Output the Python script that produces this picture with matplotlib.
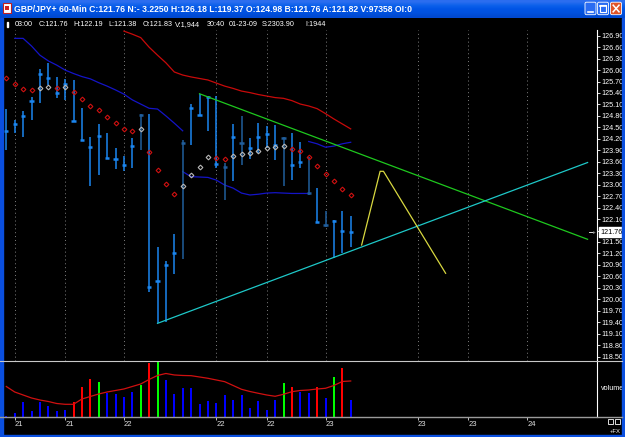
# GBP/JPY 60-min chart screenshot recreation
import numpy as np
import matplotlib
matplotlib.use("Agg")
import matplotlib.pyplot as plt
import matplotlib.patches as mpatches
import matplotlib.transforms as mtrans

plt.rcParams["font.family"] = ["Liberation Sans Narrow", "Liberation Sans", "DejaVu Sans"]

# ── price bars (oldest -> newest) ────────────────────────────────────────────
highs = [124.98, 124.69, 124.93, 125.30, 126.03, 126.18, 125.82, 125.77, 125.74, 125.02,
         124.25, 124.58, 124.35, 123.97, 123.75, 124.21, 124.84, 124.85, 121.37, 121.00,
         121.70, 124.18, 125.12, 125.38, 125.31, 125.32, 123.56, 124.58, 124.80, 124.21,
         124.61, 124.54, 124.56, 124.24, 124.35, 124.12, 123.73, 122.92, 122.31, 122.07,
         122.31, 122.19]
lows = [123.91, 124.35, 124.24, 124.69, 125.14, 125.61, 125.28, 125.22, 124.67, 124.18,
        122.97, 123.26, 123.68, 123.40, 123.36, 123.44, 123.91, 120.20, 119.37, 119.41,
        120.67, 121.06, 124.05, 124.82, 124.41, 123.44, 122.60, 123.10, 123.52, 123.67,
        123.82, 123.95, 123.65, 122.97, 123.13, 123.44, 122.73, 122.00, 121.90, 121.08,
        121.22, 121.38]
closes = [124.41, 124.60, 124.80, 125.20, 125.91, 125.79, 125.41, 125.64, 124.67, 124.18,
          123.99, 124.27, 123.69, 123.66, 123.52, 124.02, 124.82, 120.32, 120.49, 120.90,
          121.22, 124.09, 125.00, 124.82, 125.30, 123.55, 123.46, 124.26, 124.10, 123.96,
          124.26, 124.33, 124.04, 124.23, 123.52, 123.59, 122.79, 122.01, 121.95, 122.05,
          121.80, 121.76]
dark_bars = [16, 21, 26, 28, 33, 36, 38]

# parabolic SAR dots
sar = [125.80, 125.63, 125.51, 125.47, 125.52, 125.56, 125.54, 125.56, 125.43, 125.24,
       125.07, 124.95, 124.78, 124.61, 124.46, 124.40, 124.45, 123.86, 123.38, 123.03,
       122.76, 122.96, 123.25, 123.47, 123.73, 123.71, 123.68, 123.75, 123.81, 123.83,
       123.88, 123.95, 123.98, 124.00, 123.93, 123.88, 123.72, 123.49, 123.27, 123.09,
       122.89, 122.74]
sar_red = [1, 1, 1, 1, 0, 0, 1, 0, 1, 1,
           1, 1, 1, 1, 1, 1, 0, 1, 1, 1,
           1, 0, 0, 0, 0, 1, 1, 0, 0, 0,
           0, 0, 0, 0, 1, 1, 1, 1, 1, 1,
           1, 1]

# indicator lines (start bar, values)
blue_a_start = 1
blue_a = [126.83, 126.83, 126.63, 126.39, 126.24, 126.13, 126.00, 125.91, 125.83, 125.77,
          125.67, 125.58, 125.48, 125.37, 125.22, 125.11, 125.00, 124.98, 124.80, 124.61,
          124.41]
blue_b_start = 21
blue_b = [123.34, 123.21, 123.20, 123.19, 123.12, 122.99, 122.91, 122.78, 122.73, 122.75,
          122.78, 122.79, 122.78, 122.77, 122.77, 122.77]
blue_c_start = 36
blue_c = [124.13, 124.07, 123.98, 124.01, 124.07, 124.11]
red_start = 14
red_ma = [127.02, 126.94, 126.85, 126.60, 126.39, 126.19, 125.95, 125.87, 125.82, 125.78,
          125.74, 125.66, 125.58, 125.52, 125.45, 125.41, 125.36, 125.32, 125.28, 125.26,
          125.20, 125.11, 125.06, 124.99, 124.86, 124.72, 124.59, 124.46]

# drawn trendlines
green_x = [23, 69.2]
green_y = [125.38, 121.57]
cyan_x = [18, 69.2]
cyan_y = [119.37, 123.58]
yellow_x = [42.3, 44.5, 44.9, 52.3]
yellow_y = [121.42, 123.35, 123.35, 120.68]

# volume
volume = [80, 430, 1670, 660, 1670, 1280, 660, 740, 1710, 3450,
          4420, 4000, 2790, 2600, 2290, 2910, 3690, 6210, 6480, 4270,
          2600, 3340, 3340, 1440, 1860, 1590, 2480, 1940, 2480, 1010,
          1860, 780, 1940, 3920, 3410, 2910, 2790, 3410, 2170, 4580,
          5630, 1944]
vol_red = [8, 9, 10, 17, 34, 37, 40]
vol_green = [11, 16, 18, 33, 39]
vol_ma = [3515, 2875, 2526, 2177, 1944, 1769, 1536, 1443, 1443, 2060,
          2351, 2642, 2875, 3050, 3224, 3515, 3806, 4330, 4796, 5028,
          4854, 4796, 4772, 4621, 4470, 4272, 4074, 3632, 3189, 2933,
          2724, 2526, 2375, 2607, 2910, 3050, 3108, 3224, 3306, 3632,
          4097, 4155]

date_ticks = [1, 7, 14, 25, 31, 38, 49, 55, 62]
date_labels = ["21", "21", "22", "22", "22", "23", "23", "23", "24"]
price_ticks = np.round(np.arange(118.5, 126.91, 0.3), 2)

title = ("GBP/JPY+ 60-Min C:121.76 N:- 3.2250 H:126.18 L:119.37 O:124.98 "
         "B:121.76 A:121.82 V:97358 OI:0")
info_items = ["03:00", "C:121.76", "H:122.19", "L:121.38", "O:121.83", "V:1,944",
              "30:40", "01-23-09", "S:2303.90", "I:1944"]
info_x = [14.7, 38.6, 73.7, 108.4, 142.2, 175.3, 206.4, 229.1, 262.2, 305.2]

W, H = 625, 437
XLIM = (-0.393, 70.32)

fig = plt.figure(figsize=(W / 100, H / 100), dpi=100, facecolor="black")

# ── price panel ─────────────────────────────────────────────────────────────
ax = fig.add_axes([3 / W, 1 - 361 / H, 594 / W, 331 / H])
ax.set_facecolor("black")
ax.set_xlim(*XLIM)
ax.set_ylim(118.384, 127.049)

idx = np.arange(len(closes))
bar_cols = ["#205e9c" if i in dark_bars else "#1b86f0" for i in idx]
ax.vlines(idx, lows, highs, colors=bar_cols, linewidth=1.1, zorder=3)
ax.hlines(closes, idx - 0.25, idx + 0.25, colors=bar_cols, linewidth=1.8, zorder=3)

sar = np.array(sar)
red_mask = np.array(sar_red, dtype=bool)
ax.plot(idx[red_mask], sar[red_mask], "D", ms=2.4, mfc="none", mec="#d01010", mew=0.8, ls="none", zorder=4)
ax.plot(idx[~red_mask], sar[~red_mask], "D", ms=2.4, mfc="none", mec="#b8b8b8", mew=0.8, ls="none", zorder=4)

for start, vals in [(blue_a_start, blue_a), (blue_b_start, blue_b), (blue_c_start, blue_c)]:
    ax.plot(np.arange(start, start + len(vals)), vals, color="#1414c8", lw=0.9, zorder=2)
ax.plot(np.arange(red_start, red_start + len(red_ma)), red_ma, color="#c80a0a", lw=0.9, zorder=2)

ax.plot(green_x, green_y, color="#1ec81e", lw=0.9, zorder=5)
ax.plot(cyan_x, cyan_y, color="#1ec8c8", lw=0.9, zorder=5)
ax.plot(yellow_x, yellow_y, color="#d8d840", lw=0.9, zorder=5)

ax.set_xticks(date_ticks)
ax.tick_params(axis="x", length=0, labelbottom=False)
ax.grid(axis="x", color="#808080", linestyle=(0, (1, 3)), linewidth=0.7)
ax.set_axisbelow(True)

ax.yaxis.tick_right()
ax.set_yticks(price_ticks)
ax.set_yticklabels([f"{v:.2f}" for v in price_ticks])
ax.tick_params(axis="y", colors="white", length=2, width=0.6, pad=1, labelsize=5.2)
for s in ["left", "top", "bottom"]:
    ax.spines[s].set_visible(False)
ax.spines["right"].set_color("white")
ax.spines["right"].set_linewidth(0.8)

# last price box
bt = mtrans.blended_transform_factory(ax.transAxes, ax.transData)
ax.text(1.006, closes[-1], f"{closes[-1]:.2f}", transform=bt, fontsize=5.2, color="black",
        va="center", ha="left", zorder=10, clip_on=False,
        bbox=dict(boxstyle="square,pad=0.15", facecolor="white", edgecolor="white"))

# ── volume panel ────────────────────────────────────────────────────────────
axv = fig.add_axes([3 / W, 1 - 416.7 / H, 594 / W, 55.7 / H])
axv.set_facecolor("black")
axv.set_xlim(*XLIM)
axv.set_ylim(0, 6480)
vcols = ["#ff0000" if i in vol_red else "#00ff00" if i in vol_green else "#0000ff" for i in idx]
axv.vlines(idx, 0, volume, colors=vcols, linewidth=1.1, antialiased=False, zorder=2)
axv.plot(idx, vol_ma, color="#d01010", lw=0.9, zorder=3)
axv.set_yticks([])
axv.set_xticks(date_ticks)
axv.set_xticklabels(date_labels, ha="left")
axv.tick_params(axis="x", colors="#e0e0e0", length=2, width=0.6, pad=1, labelsize=5.5, direction="out")
for s in ["left", "top", "bottom"]:
    axv.spines[s].set_visible(False)
axv.spines["right"].set_color("white")
axv.spines["right"].set_linewidth(0.8)
axv.text(1.006, 0.5, "volume", transform=axv.transAxes, fontsize=5.2, color="white",
         va="center", ha="left", clip_on=False)

# ── window chrome ───────────────────────────────────────────────────────────
ui = fig.add_axes([0, 0, 1, 1], zorder=20)
ui.patch.set_alpha(0)
grad = np.array([[0.17, 0.43, 0.94], [0.05, 0.38, 0.92], [0.0, 0.33, 0.90],
                 [0.0, 0.32, 0.88], [0.0, 0.29, 0.82]])[:, None, :]
ui.imshow(grad, extent=[0, W, 18, 0], aspect="auto", interpolation="bilinear")
ui.set_xlim(0, W)
ui.set_ylim(H, 0)
ui.axis("off")

ui.add_patch(mpatches.Rectangle((0, 18), 2.5, H - 18, color="#0a4fe0"))
ui.add_patch(mpatches.Rectangle((622, 18), 3, H - 18, color="#0a4fe0"))
ui.add_patch(mpatches.Rectangle((0, 434.5), W, 2.5, color="#0a4fe0"))

# icon
ui.add_patch(mpatches.Rectangle((3, 3), 8, 10, facecolor="white", edgecolor="#c02020", lw=0.8))
ui.add_patch(mpatches.Rectangle((5, 6), 4, 4, facecolor="#d02020"))
ui.text(14, 9.5, title, color="white", fontsize=6.2, fontweight="bold", va="center", ha="left")

# min / max / close buttons
for bx, fc in [(585, "#2a6cf2"), (597.5, "#2a6cf2"), (610.5, "#e05428")]:
    ui.add_patch(mpatches.FancyBboxPatch((bx, 2.2), 11, 12.5, boxstyle="round,pad=0,rounding_size=1.5",
                                         facecolor=fc, edgecolor="white", lw=0.6))
ui.plot([588, 592.5], [12, 12], color="white", lw=1.2)
ui.add_patch(mpatches.Rectangle((600, 5), 6, 7, fill=False, edgecolor="white", lw=0.8))
ui.plot([600, 606], [5.6, 5.6], color="white", lw=1.2)
ui.plot([613.2, 619], [5.2, 11.8], color="white", lw=1.1)
ui.plot([613.2, 619], [11.8, 5.2], color="white", lw=1.1)

# info line
ui.add_patch(mpatches.Rectangle((6.5, 22), 1.6, 4.5, color="white"))
for tx, s in zip(info_x, info_items):
    ui.text(tx, 24.5, s, color="white", fontsize=5.2, va="center", ha="left")

# panel separators
ui.plot([0, 622], [361, 361], color="#c8c8c8", lw=0.8)
ui.plot([0, 622], [416.8, 416.8], color="#9a9a9a", lw=1.0)

# last price arrow
ui.plot([588.5, 592], [232, 232], color="white", lw=0.6)
ui.text(593.5, 232, "+", color="white", fontsize=4.5, va="center", ha="center")

# bottom right
ui.add_patch(mpatches.Rectangle((607.5, 418.5), 5.5, 5.5, fill=False, edgecolor="white", lw=0.6))
ui.add_patch(mpatches.Rectangle((614.5, 418.5), 5.5, 5.5, fill=False, edgecolor="white", lw=0.6))
ui.text(621, 431.5, "+FX", color="white", fontsize=4.2, va="center", ha="right")

fig.savefig("out.png", dpi=100, facecolor="black")
